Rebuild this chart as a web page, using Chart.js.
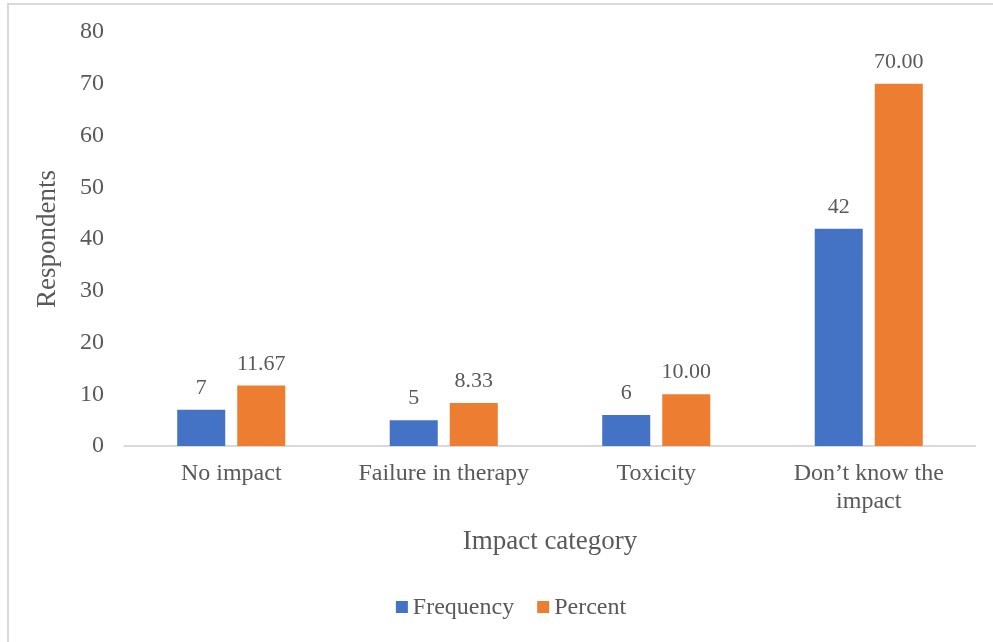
<!DOCTYPE html>
<html>
<head>
<meta charset="utf-8">
<script src="https://cdn.jsdelivr.net/npm/chart.js@4/dist/chart.umd.min.js"></script>
<style>
  html, body { margin: 0; padding: 0; background: #fff; }
  #wrap { position: relative; width: 993px; height: 642px; overflow: hidden; }
  #frame { position: absolute; left: 7px; top: 3px; width: 1000px; height: 700px;
           border-left: 2px solid #d9d9d9; border-top: 2px solid #d9d9d9; }
  canvas { position: absolute; left: 0; top: 0; }
</style>
</head>
<body>
<div id="wrap">
  <div id="frame"></div>
  <canvas id="chart" width="993" height="642"></canvas>
</div>
<script>
const categories = [["No impact"], ["Failure in therapy"], ["Toxicity"], ["Don\u2019t know the", "impact"]];
const frequency = [7, 5, 6, 42];
const percent = [11.67, 8.33, 10.00, 70.00];
const yTicks = [0, 10, 20, 30, 40, 50, 60, 70, 80];

const SERIF = "'Liberation Serif', 'Times New Roman', serif";
const TEXT = "#595959";

// writes the value above each bar
const barValues = {
  id: "barValues",
  afterDatasetsDraw(chart) {
    const ctx = chart.ctx;
    ctx.save();
    ctx.font = "22px " + SERIF;
    ctx.fillStyle = TEXT;
    ctx.textAlign = "center";
    ctx.textBaseline = "alphabetic";
    chart.data.datasets.forEach((ds, i) => {
      chart.getDatasetMeta(i).data.forEach((bar, j) => {
        const v = ds.data[j];
        const txt = i === 0 ? String(v) : v.toFixed(2);
        ctx.fillText(txt, bar.x, bar.y - 16);
      });
    });
    ctx.restore();
  }
};

// compact legend row under the axis title: small square, short gap, label
const bottomLegend = {
  id: "bottomLegend",
  afterDraw(chart) {
    const ctx = chart.ctx;
    const box = 12, gap = 5, between = 23, cx = 511, cy = 607;
    ctx.save();
    ctx.font = "24px " + SERIF;
    ctx.textBaseline = "middle";
    ctx.textAlign = "left";
    const items = chart.data.datasets.map(ds => ({
      text: ds.label, color: ds.backgroundColor, w: ctx.measureText(ds.label).width
    }));
    const total = items.reduce((s, it) => s + box + gap + it.w, 0) + between * (items.length - 1);
    let x = cx - total / 2;
    items.forEach(it => {
      ctx.fillStyle = it.color;
      ctx.fillRect(x, cy - box / 2, box, box);
      ctx.fillStyle = TEXT;
      ctx.fillText(it.text, x + box + gap, cy + 1);
      x += box + gap + it.w + between;
    });
    ctx.restore();
  }
};

new Chart(document.getElementById("chart"), {
  type: "bar",
  data: {
    labels: categories,
    datasets: [
      { label: "Frequency", data: frequency, backgroundColor: "#4472C4" },
      { label: "Percent", data: percent, backgroundColor: "#ED7D31" }
    ]
  },
  options: {
    responsive: false,
    animation: false,
    categoryPercentage: 0.565,
    barPercentage: 0.8,
    layout: { padding: { left: 28, right: 18, top: 32, bottom: 56 } },
    plugins: {
      legend: { display: false },
      tooltip: { enabled: false }
    },
    scales: {
      x: {
        grid: { display: false, drawTicks: false },
        border: { color: "#d9d9d9", width: 2 },
        ticks: { font: { family: SERIF, size: 24, lineHeight: 1.15 }, color: TEXT, padding: 14, maxRotation: 0 },
        title: { display: true, text: "Impact category", font: { family: SERIF, size: 27 }, color: TEXT,
                 padding: { top: 4, bottom: 28 } },
        afterFit(scale) { scale.height = 140; }
      },
      y: {
        min: 0,
        max: 80,
        afterBuildTicks(scale) { scale.ticks = yTicks.map(v => ({ value: v })); },
        grid: { display: false, drawTicks: false },
        border: { display: false },
        ticks: { font: { family: SERIF, size: 24, lineHeight: 0.8 }, color: TEXT, padding: 21 },
        title: { display: true, text: "Respondents", font: { family: SERIF, size: 27 }, color: TEXT,
                 padding: { top: 4, bottom: 4 } },
        afterFit(scale) { scale.width = 97; }
      }
    }
  },
  plugins: [barValues, bottomLegend]
});
</script>
</body>
</html>
